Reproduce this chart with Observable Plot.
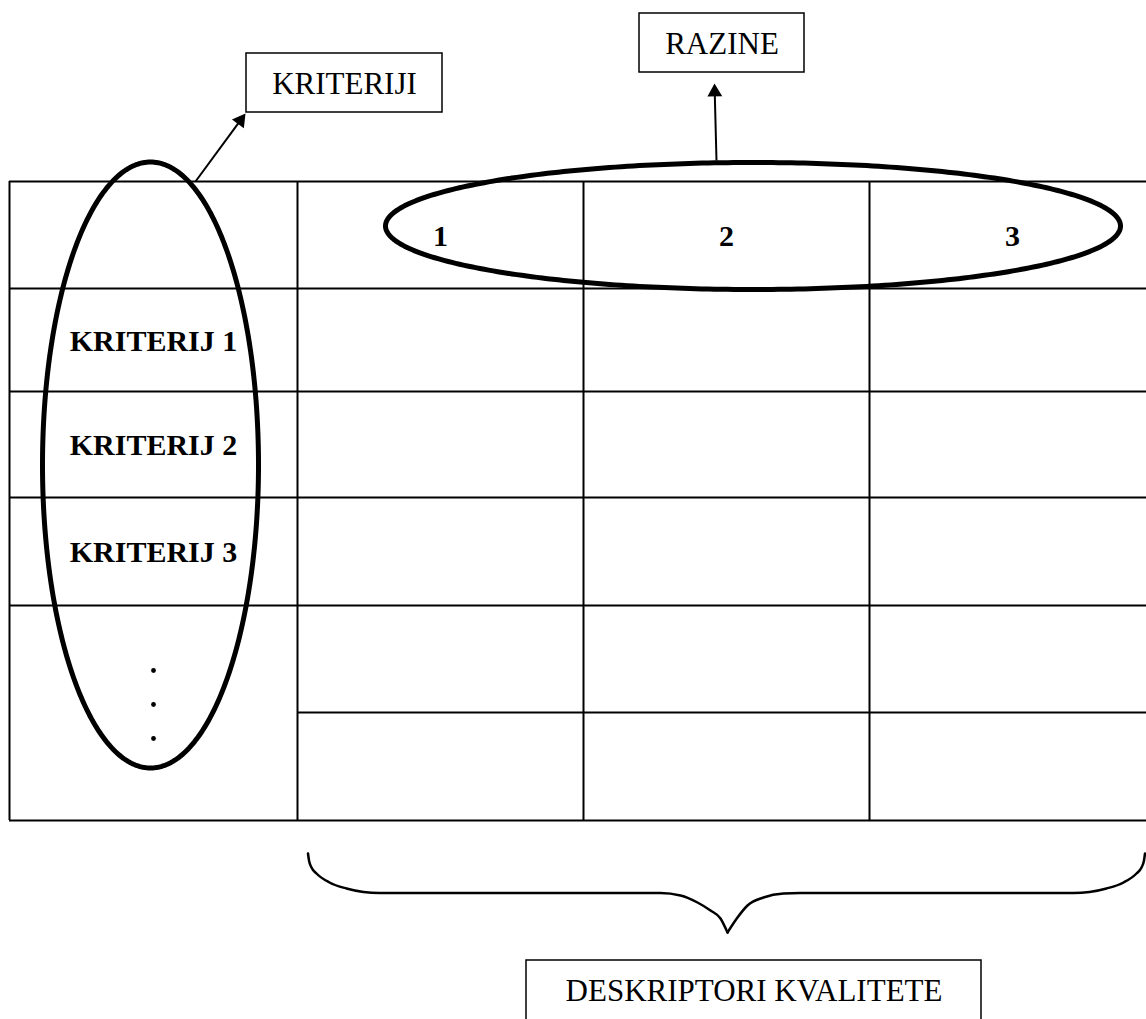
<!DOCTYPE html>
<html>
<head>
<meta charset="utf-8">
<script src="https://cdn.jsdelivr.net/npm/d3@7"></script>
<script src="https://cdn.jsdelivr.net/npm/@observablehq/plot@0.6"></script>
<style>
  html, body { margin: 0; padding: 0; background: #fff; }
  #chart svg { display: block; }
</style>
</head>
<body>
<div id="chart"></div>
<script>
// ---- diagram content (coordinates in page pixels) ----
const colEdges = [9, 297, 583, 869, 1155];
const rowEdges = [181, 288, 391, 497, 605, 712, 820];
const levels = ["1", "2", "3"];
const criteria = ["KRITERIJ 1", "KRITERIJ 2", "KRITERIJ 3"];
const dotsY = [670, 704, 738];

const boxes = [
  {label: "KRITERIJI", x1: 246, x2: 442, y1: 53, y2: 112, base: 93},
  {label: "RAZINE", x1: 639, x2: 804, y1: 13, y2: 72, base: 53},
  {label: "DESKRIPTORI KVALITETE", x1: 526, x2: 981, y1: 960, y2: 1030, base: 1000}
];

const ellipses = [
  {id: "kriteriji", cx: 150, cy: 464.5, rx: 108, ry: 303},
  {id: "razine", cx: 752.5, cy: 225.5, rx: 367.5, ry: 63.5}
];

const arrows = [
  {x1: 195, y1: 181, x2: 245, y2: 113},
  {x1: 716, y1: 160, x2: 714, y2: 83}
];

// brace, two halves meeting at the point
const braceLeftX = [307.5, 308.5, 311, 316, 329, 346, 363, 379, 660, 680, 697, 710, 720, 727];
const braceLeftY = [853, 860, 867, 873, 882, 888, 891.5, 892.5, 892.5, 895, 902, 910, 918, 932];
const braceRightX = [727, 737, 747, 763, 783, 800, 1073, 1089, 1106, 1123, 1136, 1141, 1143.5, 1144.5];
const braceRightY = [932, 917, 905, 897, 893, 892.5, 892.5, 891.5, 888, 882, 873, 867, 860, 853];

// ---- derived tables for marks ----
const W = 1146, H = 1019;
const hLines = rowEdges.map((y, i) => ({
  y, x1: i === 5 ? colEdges[1] : colEdges[0], x2: W + 10
}));
const vLines = colEdges.slice(0, 4).map(x => ({x, y1: rowEdges[0], y2: rowEdges[rowEdges.length - 1]}));
const headerTexts = levels.map((t, i) => ({
  t, x: (colEdges[i + 1] + colEdges[i + 2]) / 2, y: (rowEdges[0] + rowEdges[1]) / 2 + 10.5
}));
const critTexts = criteria.map((t, i) => ({
  t, x: 153, y: (rowEdges[i + 1] + rowEdges[i + 2]) / 2 + 10.5
}));
const ellipsePts = ellipses.flatMap(e =>
  d3.range(0, 361, 1).map(a => ({
    id: e.id,
    x: e.cx + e.rx * Math.cos(a * Math.PI / 180),
    y: e.cy + e.ry * Math.sin(a * Math.PI / 180)
  }))
);
const braceData = [
  ...braceLeftX.map((x, i) => ({side: "L", x, y: braceLeftY[i]})),
  ...braceRightX.map((x, i) => ({side: "R", x, y: braceRightY[i]}))
];
const headR = 5.5;
const headOff = 2 * headR * Math.sqrt(Math.PI / (3 * Math.sqrt(3)));
const arrowHeads = arrows.map(a => {
  const dx = a.x2 - a.x1, dy = a.y2 - a.y1, L = Math.hypot(dx, dy);
  const ux = dx / L, uy = dy / L;
  return {x: a.x2 - ux * headOff, y: a.y2 - uy * headOff,
          rot: Math.atan2(ux, -uy) * 180 / Math.PI,
          sx1: a.x1, sy1: a.y1, sx2: a.x2 - ux * headOff, sy2: a.y2 - uy * headOff};
});

const serif = "'Liberation Serif', 'Times New Roman', Times, serif";

const chart = Plot.plot({
  width: W,
  height: H,
  margin: 0,
  x: {domain: [0, W], range: [0, W], axis: null},
  y: {domain: [0, H], range: [0, H], axis: null},
  style: {background: "#fff", fontFamily: serif},
  marks: [
    Plot.ruleY(hLines, {y: "y", x1: "x1", x2: "x2", stroke: "#000", strokeWidth: 2}),
    Plot.ruleX(vLines, {x: "x", y1: "y1", y2: "y2", stroke: "#000", strokeWidth: 2}),
    Plot.text(headerTexts, {x: "x", y: "y", text: "t", fontSize: 30, fontWeight: "bold",
      lineAnchor: "bottom", textAnchor: "middle", fill: "#000", fontFamily: serif}),
    Plot.text(critTexts, {x: "x", y: "y", text: "t", fontSize: 30, fontWeight: "bold",
      lineAnchor: "bottom", textAnchor: "middle", fill: "#000", fontFamily: serif}),
    Plot.dot(dotsY, {x: () => 153, y: d => d, r: 2.4, fill: "#000", stroke: null}),
    Plot.line(ellipsePts, {x: "x", y: "y", z: "id", stroke: "#000", strokeWidth: 5, fill: "none"}),
    Plot.link(arrowHeads, {x1: "sx1", y1: "sy1", x2: "sx2", y2: "sy2", stroke: "#000", strokeWidth: 2}),
    Plot.dot(arrowHeads, {x: "x", y: "y", rotate: "rot", symbol: "triangle", r: headR, fill: "#000", stroke: null}),
    Plot.line(braceData, {x: "x", y: "y", z: "side", curve: "monotone-x", stroke: "#000", strokeWidth: 2.5}),
    Plot.rect(boxes, {x1: "x1", x2: "x2", y1: "y1", y2: "y2", fill: "#fff", stroke: "#000", strokeWidth: 1.5}),
    Plot.text(boxes, {x: d => (d.x1 + d.x2) / 2, y: "base", text: "label", fontSize: 31,
      lineAnchor: "bottom", textAnchor: "middle", fill: "#000", fontFamily: serif})
  ]
});
document.getElementById("chart").appendChild(chart);
</script>
</body>
</html>
